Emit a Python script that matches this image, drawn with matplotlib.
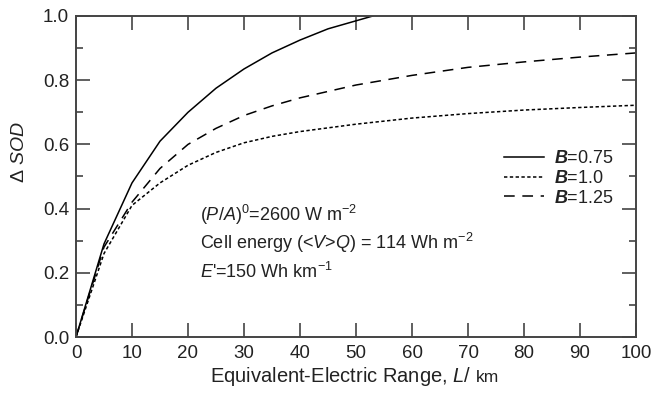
import matplotlib
matplotlib.use('Agg')
import matplotlib.pyplot as plt
from matplotlib.ticker import MultipleLocator

plt.rcParams['font.family'] = 'Liberation Sans'
plt.rcParams['mathtext.fontset'] = 'custom'
plt.rcParams['mathtext.rm'] = 'Liberation Sans'
plt.rcParams['mathtext.it'] = 'Liberation Sans:italic'
plt.rcParams['mathtext.bf'] = 'Liberation Sans:bold'
plt.rcParams['mathtext.bfit'] = 'Liberation Sans:bold:italic'

# range L / km and delta SOD
L_075 = [0, 5, 10, 15, 20, 25, 30, 35, 40, 45, 50, 53]
sod_075 = [0, 0.29, 0.48, 0.61, 0.70, 0.775, 0.835, 0.885, 0.925, 0.96, 0.985, 1.0]

L_long = [0, 5, 10, 15, 20, 25, 30, 35, 40, 50, 60, 70, 80, 90, 100]
sod_100 = [0, 0.26, 0.41, 0.48, 0.535, 0.575, 0.605, 0.625, 0.64, 0.663, 0.682, 0.696, 0.707, 0.715, 0.722]
sod_125 = [0, 0.28, 0.42, 0.525, 0.60, 0.65, 0.69, 0.72, 0.745, 0.785, 0.815, 0.84, 0.857, 0.872, 0.885]

labels = [r'$\mathbfit{B}$=0.75', r'$\mathbfit{B}$=1.0', r'$\mathbfit{B}$=1.25']

txt_col = '#222222'
fig = plt.figure(figsize=(6.52, 3.95), dpi=100)
ax = fig.add_axes([76/652, 1-337/395, 560/652, 321/395])

ax.plot(L_075, sod_075, color='black', lw=1.1, label=labels[0])
ax.plot(L_long, sod_100, color='black', lw=1.1, dashes=(2.2, 1.6), label=labels[1])
ax.plot(L_long, sod_125, color='black', lw=1.1, dashes=(7, 5), label=labels[2])

ax.set_xlim(0, 100)
ax.set_ylim(0, 1.0)
ax.xaxis.set_major_locator(MultipleLocator(10))
ax.yaxis.set_major_locator(MultipleLocator(0.2))
ax.yaxis.set_minor_locator(MultipleLocator(0.1))
ax.yaxis.set_major_formatter(plt.FuncFormatter(lambda v, p: f'{v:.1f}'))
ax.tick_params(which='both', direction='in', top=True, right=True, color='#444444',
               labelcolor=txt_col, labelsize=13.5)
ax.tick_params(which='major', length=10, width=1.2)
ax.tick_params(which='minor', length=5, width=1.2)
ax.tick_params(axis='x', pad=6)
ax.tick_params(axis='y', pad=5)
for s in ax.spines.values():
    s.set_color('#444444')
    s.set_linewidth(1.4)

leg = ax.legend(loc='upper left', bbox_to_anchor=(0.748, 0.61), frameon=False,
                fontsize=13, handlelength=2.2, handletextpad=0.6,
                labelspacing=0.15, borderpad=0)
for t in leg.get_texts():
    t.set_color(txt_col)

ax.text(22.1, 0.36, r'($\mathit{P/A}$)$^0$=2600 W m$^{-2}$', fontsize=13, color=txt_col, va='baseline')
ax.text(22.1, 0.273, r'Cell energy (<$\mathit{V}$>$\mathit{Q}$) = 114 Wh m$^{-2}$', fontsize=13, color=txt_col, va='baseline')
ax.text(22.1, 0.185, r"$\mathit{E}$'=150 Wh km$^{-1}$", fontsize=13, color=txt_col, va='baseline')

fig.text(20/652, 1-152/395, r'Δ $\mathit{SOD}$', rotation=90, ha='center', va='center',
         fontsize=14, color=txt_col)
fig.text(472/652, 1-382/395, r'Equivalent-Electric Range, $\mathit{L}$/', ha='right',
         va='baseline', fontsize=14.5, color=txt_col)
fig.text(476/652, 1-382/395, 'km', ha='left', va='baseline', fontsize=12.5, color=txt_col)

fig.savefig('out.png', dpi=100)
